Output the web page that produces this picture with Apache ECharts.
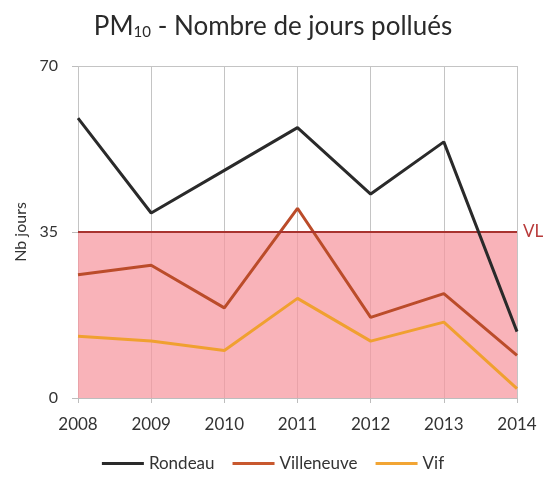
<!DOCTYPE html>
<html>
<head>
<meta charset="utf-8">
<script src="https://cdn.jsdelivr.net/npm/echarts@6/dist/echarts.min.js"></script>
<style>
  html, body { margin: 0; padding: 0; background: #fff; }
  #chart { width: 546px; height: 477px; }
</style>
</head>
<body>
<div id="chart"></div>
<script>
// Number of days over the PM10 daily limit, per monitoring station
const years = ['2008', '2009', '2010', '2011', '2012', '2013', '2014'];
const rondeau = [59, 39, 48, 57, 43, 54, 14];
const villeneuve = [26, 28, 19, 40, 17, 22, 9];
const vif = [13, 12, 10, 21, 12, 16, 2];
const limitValue = 35;   // VL: valeur limite (35 jours)
const yTicks = [0, 35, 70];

const FONT = 'Lato, "Open Sans", sans-serif';

const chart = echarts.init(document.getElementById('chart'));

chart.setOption({
  animation: false,
  backgroundColor: '#ffffff',
  textStyle: { fontFamily: FONT },
  title: {
    text: '{a|PM}{b|10}{a| - Nombre de jours pollués}',
    left: 'center',
    top: 8,
    textStyle: {
      fontWeight: 'normal',
      rich: {
        a: { fontFamily: FONT, fontSize: 26, fontWeight: 'normal', color: '#2a2a2a' },
        b: { fontFamily: FONT, fontSize: 15, fontWeight: 'normal', color: '#2a2a2a', padding: [12, 0, 0, 0] }
      }
    }
  },
  grid: { left: 78, right: 29, top: 66, bottom: 79, containLabel: false },
  legend: {
    bottom: 0,
    left: 'center',
    itemWidth: 42,
    itemHeight: 3,
    itemGap: 18,
    icon: 'rect',
    textStyle: { fontFamily: FONT, fontSize: 17, color: '#333' },
    data: ['Rondeau', 'Villeneuve', 'Vif']
  },
  xAxis: {
    type: 'category',
    data: years,
    boundaryGap: false,
    axisLine: { lineStyle: { color: '#bdbdbd', width: 1 } },
    axisTick: { show: true, length: 5, lineStyle: { color: '#bdbdbd' } },
    axisLabel: { fontFamily: FONT, fontSize: 17, color: '#333', margin: 18 },
    splitLine: { show: true, lineStyle: { color: '#c4c4c4', width: 1 } }
  },
  yAxis: {
    type: 'value',
    min: yTicks[0],
    max: yTicks[yTicks.length - 1],
    interval: 35,
    name: 'Nb jours',
    nameLocation: 'middle',
    nameGap: 48,
    nameTextStyle: { fontFamily: FONT, fontSize: 16, color: '#333' },
    axisLine: { show: false },
    axisTick: { show: true, length: 6, lineStyle: { color: '#bdbdbd' } },
    axisLabel: { fontFamily: FONT, fontSize: 16, color: '#333', margin: 20 },
    splitLine: { show: true, lineStyle: { color: '#c4c4c4', width: 1 } }
  },
  series: [
    {
      name: 'Rondeau',
      type: 'line',
      data: rondeau,
      color: '#2a2a2a',
      symbol: 'none',
      lineStyle: { width: 3, color: '#2a2a2a' },
      z: 5,
      markArea: {
        silent: true,
        itemStyle: { color: 'rgba(247, 150, 158, 0.72)' },
        data: [[{ yAxis: 0 }, { yAxis: limitValue }]]
      },
      markLine: {
        silent: true,
        symbol: 'none',
        lineStyle: { color: '#a8332f', width: 2, type: 'solid' },
        label: {
          show: true,
          position: 'end',
          formatter: 'VL',
          fontFamily: FONT,
          fontSize: 17,
          color: '#b83a3a',
          distance: 6
        },
        data: [{ yAxis: limitValue }]
      }
    },
    {
      name: 'Villeneuve',
      type: 'line',
      data: villeneuve,
      color: '#c8582e',
      symbol: 'none',
      lineStyle: { width: 3, color: '#bb4c2a' },
      z: 4
    },
    {
      name: 'Vif',
      type: 'line',
      data: vif,
      color: '#f2a534',
      symbol: 'none',
      lineStyle: { width: 3, color: '#f0a030' },
      z: 3
    }
  ]
});
</script>
</body>
</html>
